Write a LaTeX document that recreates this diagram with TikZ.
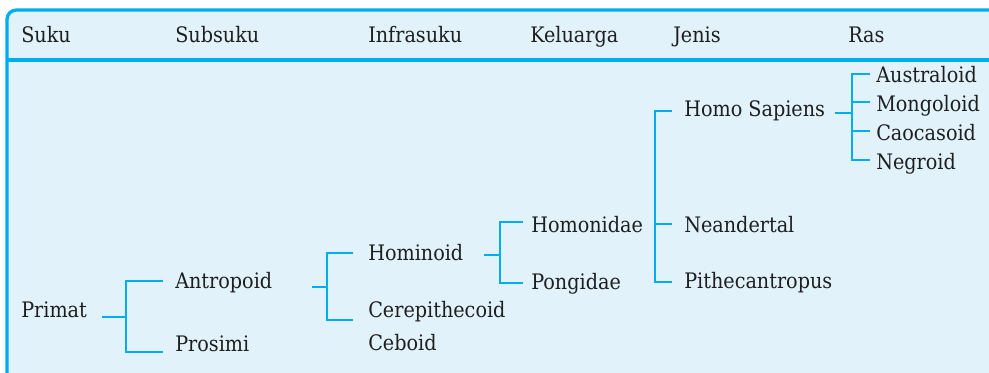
\documentclass[tikz,border=0pt]{standalone}
\usepackage{fontspec}
\setmainfont{DejaVu Serif}[FakeStretch=0.9]
\usetikzlibrary{positioning}
\definecolor{linecyan}{HTML}{00AEEF}
\definecolor{boxfill}{HTML}{E1F2FB}

\begin{document}
\begin{tikzpicture}[x=0.75pt, y=-0.75pt,
    lbl/.style={anchor=base west, inner sep=0pt, text=black!88, font=\fontsize{16}{19}\selectfont},
    branch/.style={draw=linecyan, line width=2.2pt},
    frame/.style={draw=linecyan, line width=2.5pt}]
    \useasboundingbox (0,0) rectangle (989,373);
    \clip (0,0) rectangle (989,373);

    % box and header line
    \draw[frame, fill=boxfill, rounded corners=7pt] (7,10) rectangle (1010,395);
    \coordinate (hl) at (7,60);
    \coordinate (hr) at (995,60);
    \draw[frame] (hl) -- (hr);

    % headers
    \node[lbl] (suku) at (21,43) {Suku};
    \node[lbl] (subsuku) at (175,43) {Subsuku};
    \node[lbl] (infrasuku) at (368,43) {Infrasuku};
    \node[lbl] (keluarga) at (530,43) {Keluarga};
    \node[lbl] (jenis) at (673,43) {Jenis};
    \node[lbl] (ras) at (848,43) {Ras};

    % taxa
    \node[lbl] (primat) at (21,318) {Primat};
    \node[lbl] (antropoid) at (175,289) {Antropoid};
    \node[lbl] (prosimi) at (175,352) {Prosimi};
    \node[lbl] (hominoid) at (368,261) {Hominoid};
    \node[lbl] (cerepithecoid) at (368,318) {Cerepithecoid};
    \node[lbl] (ceboid) at (368,351) {Ceboid};
    \node[lbl] (homonidae) at (531,233) {Homonidae};
    \node[lbl] (pongidae) at (531,290) {Pongidae};
    \node[lbl] (sapiens) at (684,117) {Homo Sapiens};
    \node[lbl] (neandertal) at (684,233) {Neandertal};
    \node[lbl] (pithecantropus) at (684,289) {Pithecantropus};
    \node[lbl] (australoid) at (876,83) {Australoid};
    \node[lbl] (mongoloid) at (876,112) {Mongoloid};
    \node[lbl] (caocasoid) at (876,141) {Caocasoid};
    \node[lbl] (negroid) at (876,170) {Negroid};

    % Primat -> Antropoid, Prosimi
    \coordinate (s1) at (102,317);
    \coordinate (j1) at (126,317);
    \coordinate (e1a) at (163,281);
    \coordinate (e1b) at (163,352);
    \draw[branch] (s1) -- (j1);
    \draw[branch] (e1a) -| (j1) |- (e1b);

    % Antropoid -> Hominoid, Cerepithecoid
    \coordinate (s2) at (312,287);
    \coordinate (j2) at (327,287);
    \coordinate (e2a) at (353,253);
    \coordinate (e2b) at (353,320);
    \draw[branch] (s2) -- (j2);
    \draw[branch] (e2a) -| (j2) |- (e2b);

    % Hominoid -> Homonidae, Pongidae
    \coordinate (s3) at (484,255);
    \coordinate (j3) at (500,255);
    \coordinate (e3a) at (523,222);
    \coordinate (e3b) at (523,283);
    \draw[branch] (s3) -- (j3);
    \draw[branch] (e3a) -| (j3) |- (e3b);

    % Homonidae -> Homo Sapiens, Neandertal, Pithecantropus
    \coordinate (j4) at (655,224);
    \coordinate (e4a) at (672,111);
    \coordinate (e4b) at (672,224);
    \coordinate (e4c) at (672,282);
    \draw[branch] (e4a) -| (j4) |- (e4c);
    \draw[branch] (j4) -- (e4b);

    % Homo Sapiens -> Ras
    \coordinate (s5) at (835,113);
    \coordinate (j5) at (852,113);
    \coordinate (e5a) at (870,74);
    \coordinate (e5b) at (870,102);
    \coordinate (e5c) at (870,131);
    \coordinate (e5d) at (870,160);
    \draw[branch] (s5) -- (j5);
    \draw[branch] (e5a) -| (j5) |- (e5d);
    \draw[branch] (j5 |- e5b) -- (e5b);
    \draw[branch] (j5 |- e5c) -- (e5c);
\end{tikzpicture}
\end{document}
